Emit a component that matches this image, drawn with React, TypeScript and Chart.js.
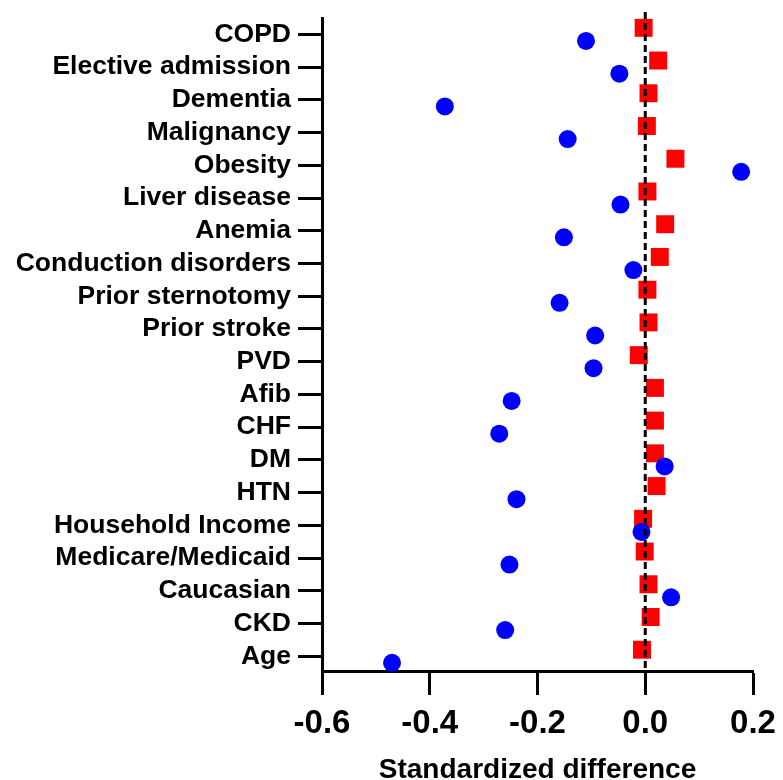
import React, { useEffect, useRef } from "react";
import { Chart, registerables } from "chart.js";

Chart.register(...registerables);

const categories = [
  "COPD",
  "Elective admission",
  "Dementia",
  "Malignancy",
  "Obesity",
  "Liver disease",
  "Anemia",
  "Conduction disorders",
  "Prior sternotomy",
  "Prior stroke",
  "PVD",
  "Afib",
  "CHF",
  "DM",
  "HTN",
  "Household Income",
  "Medicare/Medicaid",
  "Caucasian",
  "CKD",
  "Age",
];

// blue circles (before matching)
const blueValues = [
  -0.11, -0.048, -0.372, -0.144, 0.178, -0.046, -0.151, -0.022, -0.159, -0.093,
  -0.096, -0.248, -0.271, 0.036, -0.239, -0.007, -0.252, 0.048, -0.26, -0.47,
];

// red squares (after matching)
const redValues = [
  -0.003, 0.024, 0.006, 0.003, 0.056, 0.004, 0.037, 0.027, 0.004, 0.006,
  -0.012, 0.018, 0.018, 0.018, 0.021, -0.004, -0.001, 0.006, 0.01, -0.006,
];

const xTicks = [-0.6, -0.4, -0.2, 0.0, 0.2];

const FONT = "'Liberation Sans', Arial, sans-serif";

export default function App() {
  const canvasRef = useRef<HTMLCanvasElement | null>(null);

  useEffect(() => {
    const canvas = canvasRef.current;
    if (!canvas) return;

    const zeroLine = {
      id: "zeroLine",
      afterDatasetsDraw(chart: any) {
        const { ctx, chartArea, scales } = chart;
        const x = scales.x.getPixelForValue(0);
        ctx.save();
        ctx.strokeStyle = "#000";
        ctx.lineWidth = 3;
        ctx.setLineDash([7, 4]);
        ctx.beginPath();
        ctx.moveTo(x, chartArea.top - 6);
        ctx.lineTo(x, chartArea.bottom);
        ctx.stroke();
        ctx.restore();
      },
    };

    const chart = new Chart(canvas, {
      type: "scatter",
      data: {
        datasets: [
          {
            label: "Before",
            data: blueValues.map((v, i) => ({ x: v, y: i + 0.2 })),
            backgroundColor: "#0000FF",
            borderColor: "#0000FF",
            borderWidth: 0,
            pointStyle: "circle",
            pointRadius: 9,
            pointHoverRadius: 9,
          },
          {
            label: "After",
            data: redValues.map((v, i) => ({ x: v, y: i - 0.2 })),
            backgroundColor: "#FF0000",
            borderColor: "#FF0000",
            borderWidth: 0,
            pointStyle: "rect",
            pointRadius: 12.7,
            pointHoverRadius: 12.7,
          },
        ],
      },
      options: {
        animation: false,
        responsive: false,
        maintainAspectRatio: false,
        clip: false as any,
        layout: { padding: { top: 18, right: 30, left: 0, bottom: 0 } },
        plugins: {
          legend: { display: false },
          tooltip: { enabled: false },
        },
        scales: {
          x: {
            type: "linear",
            min: -0.6,
            max: 0.2,
            afterBuildTicks: (scale: any) => {
              scale.ticks = xTicks.map((v) => ({ value: v }));
            },
            afterFit: (scale: any) => {
              scale.height = 109;
              scale.paddingLeft = 0;
              scale.paddingRight = 0;
            },
            ticks: {
              color: "#000",
              font: { family: FONT, size: 33, weight: "bold" },
              padding: 9,
              maxRotation: 0,
              callback: (v: any) => Number(v).toFixed(1),
            },
            grid: {
              drawOnChartArea: false,
              drawTicks: true,
              tickLength: 24,
              tickWidth: 3,
              tickColor: "#000",
            },
            border: { display: true, width: 3, color: "#000" },
            title: {
              display: true,
              text: "Standardized difference",
              color: "#000",
              font: { family: FONT, size: 28, weight: "bold", lineHeight: 0.8 },
              padding: { top: 0, bottom: -1 },
            },
          },
          y: {
            type: "linear",
            reverse: true,
            min: -0.5,
            max: 19.45,
            afterBuildTicks: (scale: any) => {
              scale.ticks = categories.map((_, i) => ({ value: i }));
            },
            afterFit: (scale: any) => {
              scale.width = 322;
              scale.paddingTop = 0;
              scale.paddingBottom = 0;
            },
            ticks: {
              color: "#000",
              font: { family: FONT, size: 26.5, weight: "bold" },
              padding: 7,
              autoSkip: false,
              callback: (v: any) => categories[Math.round(Number(v))] ?? "",
            },
            grid: {
              drawOnChartArea: false,
              drawTicks: true,
              tickLength: 24,
              tickWidth: 3,
              tickColor: "#000",
            },
            border: { display: true, width: 3, color: "#000" },
          },
        },
      },
      plugins: [zeroLine],
    });

    return () => chart.destroy();
  }, []);

  return (
    <div style={{ position: "fixed", left: 0, top: 0, width: 783, height: 780, background: "#fff" }}>
      <canvas ref={canvasRef} width={783} height={780} style={{ width: 783, height: 780, display: "block" }} />
    </div>
  );
}
